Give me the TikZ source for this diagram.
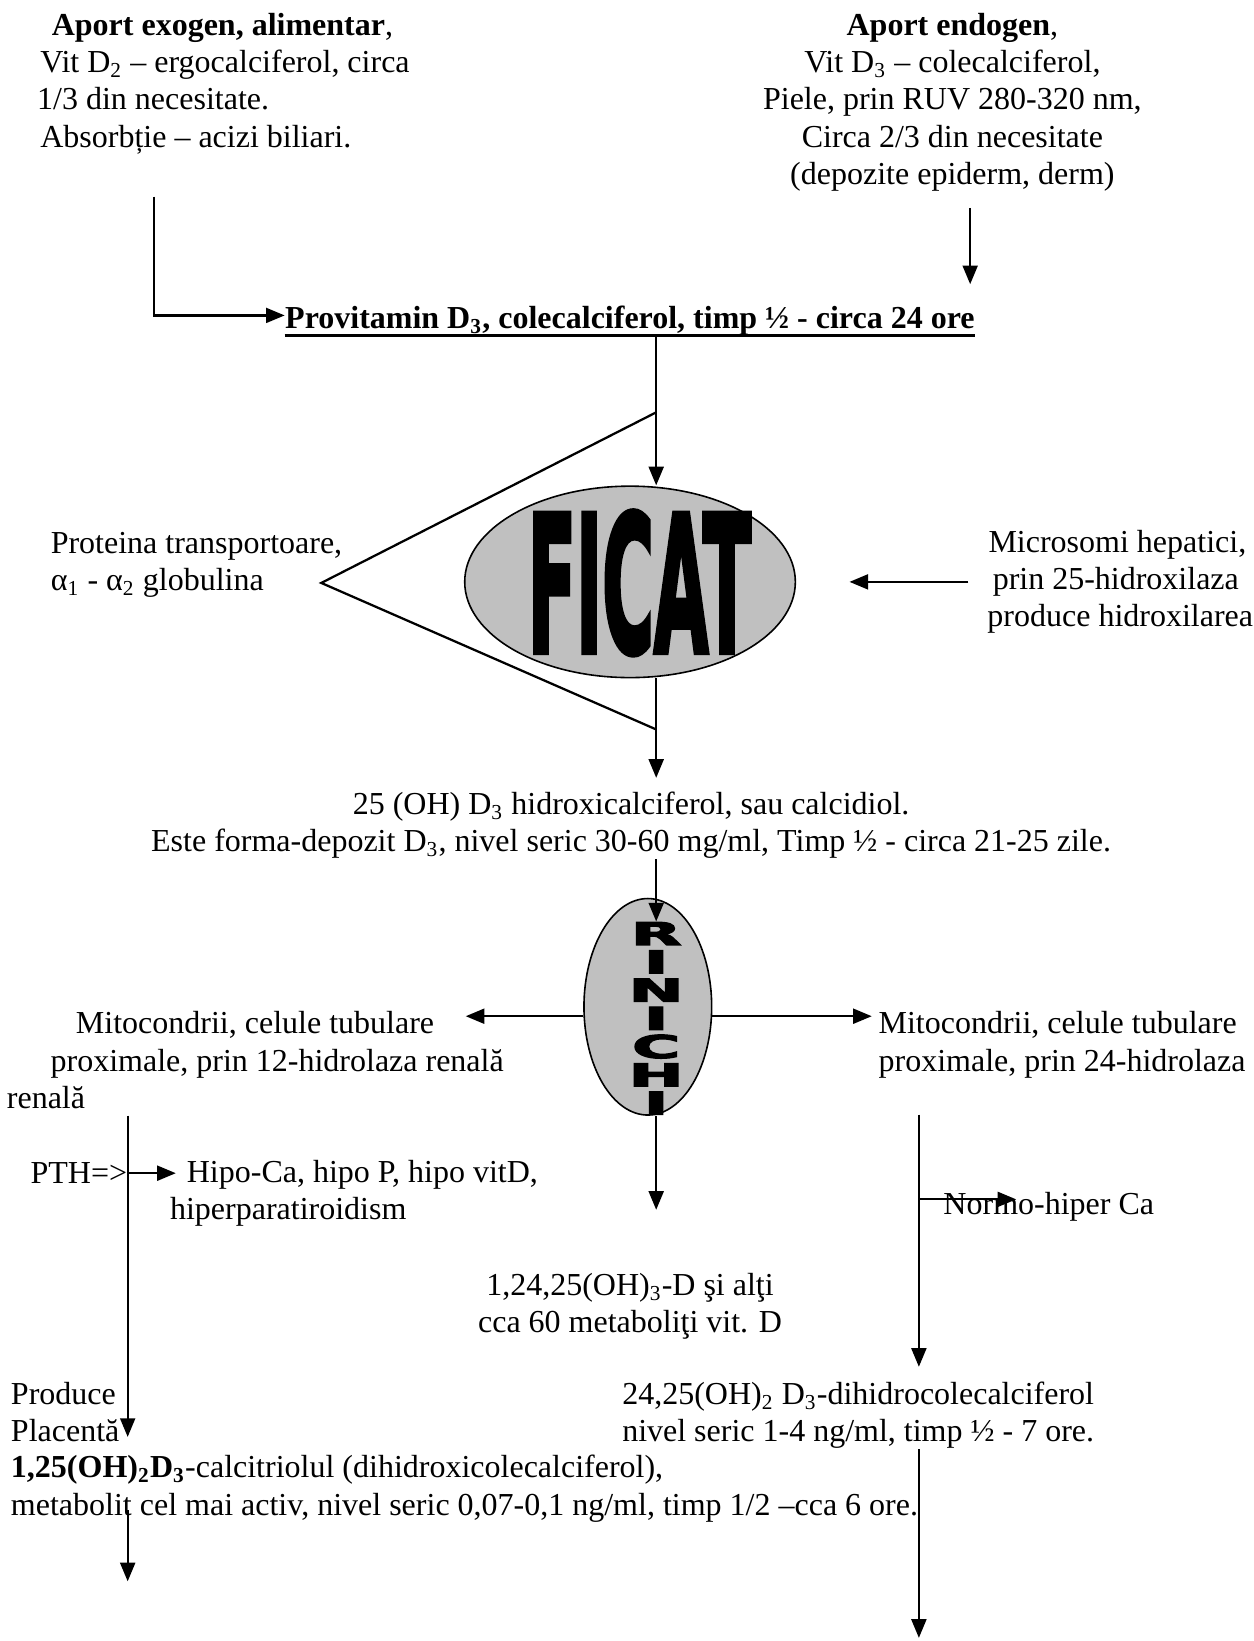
\documentclass[tikz,border=0pt]{standalone}
\usepackage{fontspec}
\setmainfont{Liberation Serif}
\newfontfamily\heavyfont[FakeBold=3.5]{DejaVu Sans}
\usetikzlibrary{arrows.meta,shapes.geometric,calc}
\definecolor{organgray}{RGB}{192,192,192}
\newcommand{\rinstack}{\vbox{\baselineskip=9pt\lineskiplimit=-100pt\lineskip=0pt\halign{\hfil##\hfil\cr R\cr I\cr N\cr I\cr C\cr H\cr I\cr}}}
\begin{document}
\begin{tikzpicture}[x=0.3925pt, y=-0.3925pt,
  txt/.style={inner sep=0pt, font=\fontsize{12}{14}\selectfont},
  arr/.style={line width=0.85pt, -{Triangle[length=7pt,width=5.6pt]}},
  ln/.style={line width=0.85pt},
  organ/.style={ellipse, draw, fill=organgray, line width=0.6pt, inner sep=0pt}]
\useasboundingbox (0,0) rectangle (1198,1568);

% column coordinates
\coordinate (colC) at (627,0);
\coordinate (colR) at (927,0);

% top texts
\node[txt, align=left, anchor=north west] (exo) at (35,12)
  {\hspace*{5.5pt}\textbf{Aport exogen, alimentar},\\
   \hspace*{1.2pt}Vit D\textsubscript{2} – ergocalciferol, circa\\
   1/3 din necesitate.\\
   \hspace*{1.2pt}Absorbție – acizi biliari.};
\node[txt, align=center, anchor=north] (endo) at (910,12)
  {\textbf{Aport endogen},\\
   Vit D\textsubscript{3} – colecalciferol,\\
   Piele, prin RUV 280-320 nm,\\
   Circa 2/3 din necesitate\\
   (depozite epiderm, derm)};

\node[txt, anchor=base west, font=\fontsize{12}{14}\selectfont\bfseries] (prov) at (272,314)
  {Provitamin D\textsubscript{3}, colecalciferol, timp ½ - circa 24 ore};
\draw[line width=1.1pt] ([yshift=-2.6pt]prov.base west) -- ([yshift=-2.6pt]prov.base east);

\coordinate (exoS) at (147,188);
\draw[arr] (exoS) |- ([yshift=2pt]prov.west);
\draw[arr, shorten <=6pt, shorten >=8pt] (endo.south -| colR) -- (prov.north -| colR);

% liver
\node[organ, minimum width=124pt, minimum height=71.8pt] (ficat) at (602,556) {};
\node[inner sep=0pt] (ficatTxt) at (611,557) {\resizebox{83.6pt}{52.6pt}{\heavyfont\bfseries FICAT}};

\coordinate (t1) at (627,394);
\coordinate (tApex) at (307,557);
\coordinate (t2) at (627,697);
\draw[ln] (t1) -- (tApex) -- (t2);

\draw[arr] (prov.south -| colC) -- (ficat.north -| colC);

\node[txt, align=left, anchor=west] (prot) at (48,540)
  {Proteina transportoare,\\α\textsubscript{1} - α\textsubscript{2} globulina};
\node[txt, align=left, anchor=west] (micro) at (943,556)
  {\hspace*{0.4pt}Microsomi hepatici,\\\hspace*{2pt}prin 25-hidroxilaza\\produce hidroxilarea};
\draw[arr, shorten <=7pt, shorten >=20pt] (micro.west |- ficat.east) -- (ficat.east);

\node[txt, align=center, anchor=north] (oh25) at (603,756)
  {25 (OH) D\textsubscript{3} hidroxicalciferol, sau calcidiol.\\
   Este forma-depozit D\textsubscript{3}, nivel seric 30-60 mg/ml, Timp ½ - circa 21-25 zile.};
\draw[arr, shorten >=5pt] (ficat.south -| colC) -- (oh25.north -| colC);

% kidney
\node[organ, minimum width=47.9pt, minimum height=81.2pt] (rin) at (619,962) {};
\node[inner sep=0pt] (rinTxt) at (627,973) {\resizebox{20.5pt}{72.2pt}{\heavyfont\bfseries\rinstack}};
\draw[arr] (oh25.south -| colC) -- (rinTxt.north);

\coordinate (tipL) at (445,971);
\coordinate (tipR) at (833,971);
\draw[arr] (rin.west |- tipL) -- (tipL);
\draw[arr] (rin.east |- tipR) -- (tipR);

\node[txt, align=left, anchor=north west] (mitoL) at (0,966)
  {\hspace*{28.3pt}Mitocondrii, celule tubulare\\
   \hspace*{18.8pt}proximale, prin 12-hidrolaza renală\\
   \hspace*{2.4pt}renală};
\node[txt, align=left, anchor=north west] (mitoR) at (839,966)
  {Mitocondrii, celule tubulare\\proximale, prin 24-hidrolaza};

% left column
\coordinate (L1) at (122,1066);
\coordinate (L2) at (122,1373);
\draw[arr] (L1) -- (L2);
\node[txt, anchor=east] (pth) at (122,1121) {PTH=>};
\coordinate (pthTip) at (168,1121);
\draw[arr] (pth.east) -- (pthTip);
\node[txt, align=left, anchor=north west] (hipo) at (162,1108)
  {\hspace*{6.3pt}Hipo-Ca, hipo P, hipo vitD,\\hiperparatiroidism};

% centre
\coordinate (c1) at (627,1156);
\draw[arr] (rin.south -| colC) -- (c1);
\node[txt, align=center, anchor=north] (metab) at (602,1216)
  {1,24,25(OH)\textsubscript{3}-D şi alţi\\cca 60 metaboliţi vit. D};

% right column
\coordinate (R1) at (878,1065);
\coordinate (R2) at (878,1306);
\draw[arr] (R1) -- (R2);
\coordinate (nTip) at (971,1146);
\node[txt, anchor=west] (normo) at (901,1153) {Normo-hiper Ca};
\draw[arr] (R1 |- nTip) -- (nTip);

% bottom
\node[txt, align=left, anchor=north west] (prod) at (10,1320) {Produce\\Placentă};
\node[txt, align=center, anchor=north] (d2425) at (820,1320)
  {24,25(OH)\textsubscript{2} D\textsubscript{3}-dihidrocolecalciferol\\
   nivel seric 1-4 ng/ml, timp ½ - 7 ore.};
\node[txt, align=left, anchor=north west] (calc) at (10,1390)
  {\textbf{1,25(OH)\textsubscript{2}D\textsubscript{3}}-calcitriolul (dihidroxicolecalciferol),\\
   metabolit cel mai activ, nivel seric 0,07-0,1 ng/ml, timp 1/2 –cca 6 ore.};

\coordinate (L3) at (122,1443);
\coordinate (L4) at (122,1511);
\draw[arr] (L3) -- (L4);
\coordinate (R3) at (878,1385);
\coordinate (R4) at (878,1565);
\draw[arr] (R3) -- (R4);
\end{tikzpicture}
\end{document}
